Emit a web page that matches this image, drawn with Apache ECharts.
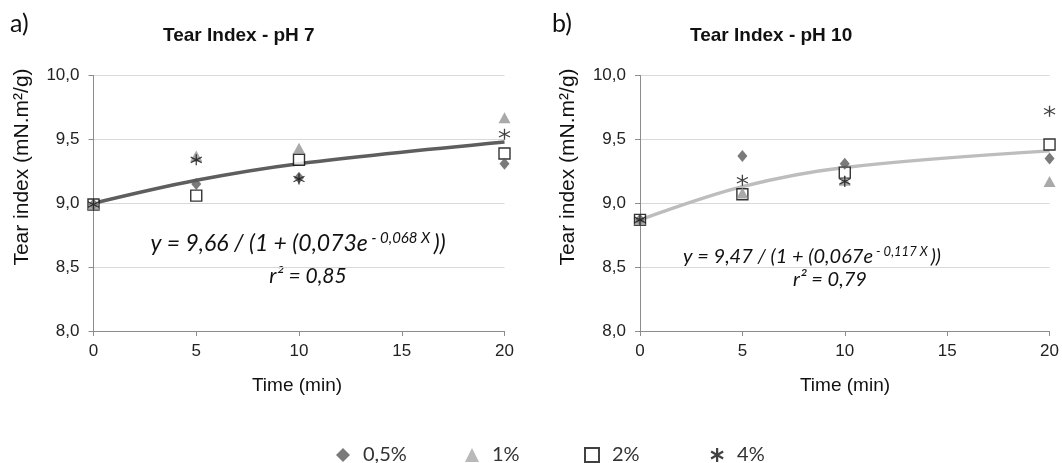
<!DOCTYPE html>
<html>
<head>
<meta charset="utf-8">
<script src="https://cdn.jsdelivr.net/npm/echarts@6/dist/echarts.min.js"></script>
<style>
html,body{margin:0;padding:0;background:#fff;}
#c{width:1062px;height:463px;}
</style>
</head>
<body>
<div id="c"></div>
<script>
// ---- data ----
const times = [0, 5, 10, 20];
const seriesNames = ['0,5%', '1%', '2%', '4%'];
const ph7_05 = [8.99, 9.15, 9.20, 9.31];
const ph7_1  = [8.99, 9.37, 9.43, 9.67];
const ph7_2  = [8.99, 9.06, 9.34, 9.39];
const ph7_4  = [8.99, 9.34, 9.19, 9.54];
const ph7_fit = [9.00, 9.18, 9.31, 9.48];
const ph10_05 = [8.87, 9.37, 9.31, 9.35];
const ph10_1  = [8.87, 9.08, 9.18, 9.17];
const ph10_2  = [8.87, 9.07, 9.24, 9.46];
const ph10_4  = [8.87, 9.18, 9.17, 9.72];
const ph10_fit = [8.87, 9.13, 9.28, 9.41];
const yTickValues = [8.0, 8.5, 9.0, 9.5, 10.0];
const yTickLabels = ['8,0', '8,5', '9,0', '9,5', '10,0'];
const xTickValues = [0, 5, 10, 15, 20];
const titles = ['Tear Index - pH 7', 'Tear Index - pH 10'];
const panelLabels = ['a)', 'b)'];
const yTitle = 'Tear index (mN.m²/g)';
const xTitle = 'Time (min)';
const eq7 = ['y = 9,66 / (1 + (0,073e', ' - 0,068 X ', '))', 'r² = 0,85'];
const eq10 = ['y = 9,47 / (1 + (0,067e', ' - 0,117 X ', '))', 'r² = 0,79'];

const pairs = (xs, ys) => xs.map((x, i) => [x, ys[i]]);

const ASTER = 'path://M5,0L5,10M0.7,2.5L9.3,7.5M0.7,7.5L9.3,2.5';
const markerDefs = [
  {name: seriesNames[2], symbol: 'rect', size: 11, style: {color: '#fff', borderColor: '#000', borderWidth: 1.4}},
  {name: seriesNames[0], symbol: 'diamond', size: [10, 12], style: {color: '#595959'}},
  {name: seriesNames[1], symbol: 'triangle', size: [12, 11], style: {color: '#939393'}},
  {name: seriesNames[3], symbol: ASTER, size: 11, style: {color: 'rgba(0,0,0,0)', borderColor: '#111', borderWidth: 1.3}}
];
const dataByName7 = {'0,5%': ph7_05, '1%': ph7_1, '2%': ph7_2, '4%': ph7_4};
const dataByName10 = {'0,5%': ph10_05, '1%': ph10_1, '2%': ph10_2, '4%': ph10_4};

const font = 'Liberation Sans, Arial, sans-serif';
const calib = 'Lato, Open Sans, sans-serif';

function xAxisCfg(gi) {
  return {
    type: 'value', gridIndex: gi, min: 0, max: 20, interval: 5,
    axisLine: {show: true, lineStyle: {color: '#8c8c8c', width: 1}},
    axisTick: {show: true, length: 5, lineStyle: {color: '#8c8c8c'}},
    axisLabel: {color: '#222', fontSize: 17, fontFamily: font, margin: 12,
      formatter: v => String(xTickValues[xTickValues.indexOf(v)])},
    splitLine: {show: false}
  };
}
function yAxisCfg(gi) {
  return {
    type: 'value', gridIndex: gi, min: 8, max: 10, interval: 0.5,
    axisLine: {show: true, lineStyle: {color: '#8c8c8c', width: 1}},
    axisTick: {show: true, length: 5, lineStyle: {color: '#8c8c8c'}},
    axisLabel: {color: '#222', fontSize: 17, fontFamily: font, margin: 14,
      formatter: v => { const i = yTickValues.findIndex(t => Math.abs(t - v) < 1e-6); return i >= 0 ? yTickLabels[i] : ''; }},
    splitLine: {show: true, lineStyle: {color: '#d9d9d9', width: 1}}
  };
}

const series = [];
[[ph7_fit, '#5e5e5e', dataByName7], [ph10_fit, '#bdbdbd', dataByName10]].forEach(([fit, col, dmap], gi) => {
  series.push({
    type: 'line', xAxisIndex: gi, yAxisIndex: gi, data: pairs(times, fit),
    smooth: 0.35, showSymbol: false, symbol: 'none', lineStyle: {color: col, width: 3.5},
    silent: true, z: 1
  });
  markerDefs.forEach(m => {
    series.push({
      type: 'scatter', name: m.name, xAxisIndex: gi, yAxisIndex: gi,
      data: pairs(times, dmap[m.name]), symbol: m.symbol, symbolSize: m.size,
      itemStyle: m.style, z: 3, silent: true
    });
  });
});

const legendPos = [
  {name: seriesNames[0], icon: 'diamond', cx: 338},
  {name: seriesNames[1], icon: 'triangle', cx: 467},
  {name: seriesNames[2], icon: 'rect', cx: 586},
  {name: seriesNames[3], icon: ASTER, cx: 712}
];
const legends = legendPos.map(l => ({
  data: [{name: l.name, icon: l.icon}],
  left: l.cx - 7, top: 440, itemWidth: 14, itemHeight: 14,
  selectedMode: false,
  itemStyle: l.name === '4%' ? {borderWidth: 2.2, borderColor: '#111'} : (l.name === '2%' ? {borderWidth: 2, borderColor: '#111'} : (l.name === '1%' ? {color: '#a6a6a6'} : {})),
  textStyle: {fontSize: 20, fontFamily: calib, color: '#333', padding: [0, 0, 0, 8]}
}));

function eqText(eq, cx, cy, rx, ry, fs, ss, rs) {
  return [
    {type: 'text', x: cx, y: cy, style: {
      text: '{a|' + eq[0] + '}{s|' + eq[1] + '}{a|' + eq[2] + '}',
      rich: {
        a: {fontSize: fs, fontStyle: 'italic', fontFamily: calib, fill: '#111', lineHeight: fs + 4},
        s: {fontSize: ss, fontStyle: 'italic', fontFamily: calib, fill: '#111', verticalAlign: 'top', lineHeight: fs + 4, padding: [0, 0, Math.round(fs * 0.4), 0]}
      },
      align: 'center', verticalAlign: 'middle'
    }},
    {type: 'text', x: rx, y: ry, style: {text: eq[3], fontSize: rs, fontStyle: 'italic', fontFamily: calib, fill: '#111', align: 'center', verticalAlign: 'middle'}}
  ];
}

const graphic = [
  {type: 'text', x: 10, y: 24, style: {text: panelLabels[0], fontSize: 25, fontFamily: calib, fill: '#111', verticalAlign: 'middle'}},
  {type: 'text', x: 552, y: 24, style: {text: panelLabels[1], fontSize: 25, fontFamily: calib, fill: '#111', verticalAlign: 'middle'}},
  {type: 'text', x: 163, y: 36, style: {text: titles[0], fontSize: 19, fontWeight: 'bold', fontFamily: font, fill: '#111', verticalAlign: 'middle'}},
  {type: 'text', x: 690, y: 36, style: {text: titles[1], fontSize: 19, fontWeight: 'bold', fontFamily: font, fill: '#111', verticalAlign: 'middle'}},
  {type: 'text', x: 22, y: 167, rotation: Math.PI / 2, style: {text: yTitle, fontSize: 21, fontFamily: font, fill: '#111', align: 'center', verticalAlign: 'middle'}},
  {type: 'text', x: 568, y: 167, rotation: Math.PI / 2, style: {text: yTitle, fontSize: 21, fontFamily: font, fill: '#111', align: 'center', verticalAlign: 'middle'}},
  {type: 'text', x: 297, y: 386, style: {text: xTitle, fontSize: 19, fontFamily: font, fill: '#111', align: 'center', verticalAlign: 'middle'}},
  {type: 'text', x: 845, y: 386, style: {text: xTitle, fontSize: 19, fontFamily: font, fill: '#111', align: 'center', verticalAlign: 'middle'}}
].concat(eqText(eq7, 298, 244, 308, 276, 23, 15, 21)).concat(eqText(eq10, 812, 257, 830, 280, 20, 13, 20));

const chart = echarts.init(document.getElementById('c'), null, {renderer: 'canvas'});
chart.setOption({
  backgroundColor: '#fff',
  animation: false,
  grid: [
    {left: 93.5, top: 75.5, width: 411, height: 255.5},
    {left: 640, top: 75.5, width: 411, height: 255.5}
  ],
  xAxis: [xAxisCfg(0), xAxisCfg(1)],
  yAxis: [yAxisCfg(0), yAxisCfg(1)],
  legend: legends,
  series: series,
  graphic: graphic
});
</script>
</body>
</html>
